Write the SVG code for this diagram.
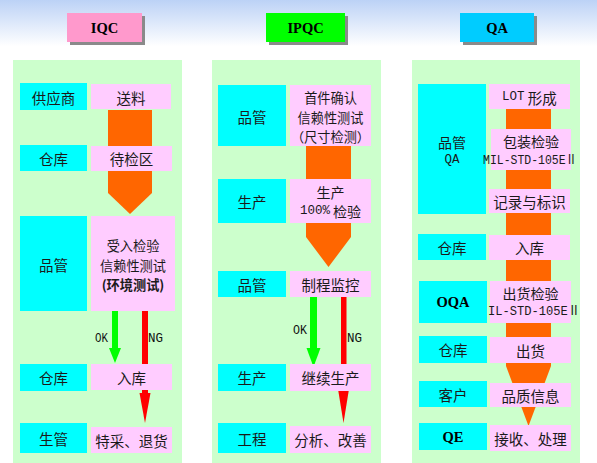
<svg xmlns="http://www.w3.org/2000/svg" width="597" height="463" viewBox="0 0 597 463">
<defs>
<linearGradient id="bg" x1="0" y1="0" x2="0" y2="1">
<stop offset="0" stop-color="#BCD2F6"/>
<stop offset="0.1" stop-color="#FFFFFF"/>
<stop offset="1" stop-color="#FFFFFF"/>
</linearGradient>
</defs>
<style>
.panel{fill:#CCFFCC}
.cy{fill:#00FFFF}
.pk{fill:#FFCCFF}
.or{fill:#FF6600}
.gr{fill:#00FF00}
.rd{fill:#FF0000}
.sh{fill:#8A8A8A}
text{font-family:"Noto Sans CJK SC","Liberation Sans",sans-serif;font-size:14.5px;fill:#1A1A1A;text-anchor:middle;dominant-baseline:central}
.ml{font-size:14px}
.m3{font-size:13.2px}
.hd{font-family:"Liberation Serif",serif;font-weight:bold;font-size:14.5px;fill:#000}
.lat{font-family:"Liberation Mono",monospace;font-size:12.5px}
.std{font-family:"Liberation Mono","Noto Sans CJK SC",monospace;font-size:13px}
.lbl{font-family:"Liberation Mono",monospace;font-size:13px;fill:#111}
</style>
<rect width="597" height="463" fill="url(#bg)"/>

<g id="panels">
<rect class="panel" x="13" y="60" width="169" height="403"/>
<rect class="panel" x="212" y="60" width="169" height="403"/>
<rect class="panel" x="412" y="60" width="168" height="403"/>
</g>

<g id="header-iqc">
<rect class="sh" x="70" y="16" width="75" height="29"/>
<rect x="67" y="13" width="75" height="29" fill="#FF99CC"/>
<text class="hd" x="104.5" y="28">IQC</text>
</g>
<g id="header-ipqc">
<rect class="sh" x="269" y="16" width="79" height="29"/>
<rect x="266" y="13" width="79" height="29" fill="#00FF00"/>
<text class="hd" x="305.5" y="28">IPQC</text>
</g>
<g id="header-qa">
<rect class="sh" x="463" y="16" width="74" height="29"/>
<rect x="460" y="13" width="74" height="29" fill="#00CCFF"/>
<text class="hd" x="497" y="28">QA</text>
</g>

<g id="connectors">
<polygon class="or" points="108,110 152,110 152,193 130,214 108,193"/>
<polygon class="or" points="306,146 351,146 351,237 328.5,267 306,237"/>
<polygon class="or" points="506,109 551,109 551,366 528.5,426 506,366"/>
<rect class="gr" x="112" y="311" width="6" height="39"/>
<polygon class="gr" points="109,348 121,348 115,363"/>
<rect class="rd" x="142" y="311" width="6" height="84"/>
<polygon class="rd" points="139.5,393 150.5,393 145,423"/>
<text class="lbl" x="101.5" y="338" textLength="13" lengthAdjust="spacingAndGlyphs">OK</text>
<text class="lbl" x="155.5" y="338" textLength="15" lengthAdjust="spacingAndGlyphs">NG</text>
<rect class="gr" x="310" y="297" width="7" height="53"/>
<polygon class="gr" points="306.5,348 320.5,348 313.5,367"/>
<rect class="rd" x="341" y="297" width="5.5" height="94"/>
<polygon class="rd" points="338,389 349,389 343.5,423"/>
<text class="lbl" x="300" y="330" textLength="14" lengthAdjust="spacingAndGlyphs">OK</text>
<text class="lbl" x="354.5" y="338" textLength="15" lengthAdjust="spacingAndGlyphs">NG</text>
</g>

<!-- IQC column -->
<g id="iqc-supplier"><rect class="cy" x="20" y="83" width="67" height="27"/><text x="53.5" y="97">供应商</text></g>
<g id="iqc-delivery"><rect class="pk" x="91" y="84" width="80" height="25"/><text x="131" y="97">送料</text></g>
<g id="iqc-warehouse1"><rect class="cy" x="20" y="145" width="67" height="26"/><text x="53.5" y="158">仓库</text></g>
<g id="iqc-waiting"><rect class="pk" x="91" y="146" width="81" height="25"/><text x="131.5" y="158.5">待检区</text></g>
<g id="iqc-qc"><rect class="cy" x="20" y="216" width="67" height="95"/><text x="53.5" y="264">品管</text></g>
<g id="iqc-inspect"><rect class="pk" x="91" y="216" width="84" height="95"/>
<text class="m3" x="133" y="245.3"><tspan x="133" y="245.3">受入检验</tspan><tspan x="133" y="264.5">信赖性测试</tspan><tspan x="133" y="283.7" font-weight="bold">(环境测试)</tspan></text>
</g>
<g id="iqc-warehouse2"><rect class="cy" x="20" y="364" width="67" height="27"/><text x="53.5" y="377.5">仓库</text></g>
<g id="iqc-store"><rect class="pk" x="91" y="364" width="81" height="26"/><text x="131.5" y="377">入库</text></g>
<g id="iqc-pc"><rect class="cy" x="20" y="423" width="67" height="30"/><text x="53.5" y="438">生管</text></g>
<g id="iqc-return"><rect class="pk" x="91" y="427" width="81" height="26"/><text x="131.5" y="440">特采、退货</text></g>

<!-- IPQC column -->
<g id="ipqc-qc1"><rect class="cy" x="218" y="85" width="68" height="61"/><text x="252" y="116.5">品管</text></g>
<g id="ipqc-first"><rect class="pk" x="290" y="85" width="81" height="61"/>
<text class="m3" x="330.5" y="97.3"><tspan x="330.5" y="97.3">首件确认</tspan><tspan x="330.5" y="116.5">信赖性测试</tspan><tspan x="330.5" y="135.7">（尺寸检测）</tspan></text>
</g>
<g id="ipqc-prod1"><rect class="cy" x="218" y="179" width="68" height="44"/><text x="252" y="201">生产</text></g>
<g id="ipqc-check"><rect class="pk" x="290" y="179" width="81" height="44"/>
<text class="ml" x="330.5" y="192"><tspan x="330.5" y="192">生产</tspan><tspan x="330.5" y="211"><tspan class="lat" font-size="13">100%</tspan> 检验</tspan></text>
</g>
<g id="ipqc-qc2"><rect class="cy" x="218" y="271" width="68" height="26"/><text x="252" y="284">品管</text></g>
<g id="ipqc-monitor"><rect class="pk" x="290" y="271" width="81" height="26"/><text x="330.5" y="284">制程监控</text></g>
<g id="ipqc-prod2"><rect class="cy" x="218" y="364" width="68" height="27"/><text x="252" y="377.5">生产</text></g>
<g id="ipqc-continue"><rect class="pk" x="290" y="364" width="81" height="27"/><text x="330.5" y="377.5">继续生产</text></g>
<g id="ipqc-eng"><rect class="cy" x="218" y="423" width="68" height="30"/><text x="252" y="438">工程</text></g>
<g id="ipqc-analysis"><rect class="pk" x="290" y="426" width="81" height="27"/><text x="330.5" y="439.5">分析、改善</text></g>

<!-- QA column -->
<g id="qa-qc"><rect class="cy" x="418" y="84" width="68" height="130"/>
<text class="ml" x="452" y="142"><tspan x="452" y="142">品管</tspan><tspan class="lat" x="452" y="160" font-size="13">QA</tspan></text>
</g>
<g id="qa-lot"><rect class="pk" x="489" y="84" width="81" height="25"/><text x="529.5" y="97"><tspan class="lat" font-size="13">LOT</tspan> 形成</text></g>
<g id="qa-pack"><rect class="pk" x="491" y="129" width="80" height="41"/>
<text class="ml" x="531" y="141">包装检验</text>
<text class="std" x="530" y="160" textLength="94" lengthAdjust="spacingAndGlyphs">MIL-STD-105EⅡ</text>
</g>
<g id="qa-record"><rect class="pk" x="489" y="189" width="81" height="24"/><text x="529.5" y="201">记录与标识</text></g>
<g id="qa-wh1"><rect class="cy" x="418" y="234" width="68" height="26"/><text x="452" y="247">仓库</text></g>
<g id="qa-store"><rect class="pk" x="489" y="235" width="81" height="25"/><text x="529.5" y="247.5">入库</text></g>
<g id="qa-oqa"><rect class="cy" x="419" y="281" width="68" height="42"/><text class="hd" x="453" y="302">OQA</text></g>
<g id="qa-ship-check"><rect class="pk" x="490" y="281" width="81" height="42"/>
<text class="ml" x="530.5" y="293">出货检验</text>
<text class="std" x="534" y="311" textLength="92" lengthAdjust="spacingAndGlyphs">IL-STD-105EⅡ</text>
</g>
<g id="qa-wh2"><rect class="cy" x="419" y="336" width="68" height="27"/><text x="453" y="349.5">仓库</text></g>
<g id="qa-ship"><rect class="pk" x="490" y="337" width="81" height="26"/><text x="530.5" y="350">出货</text></g>
<g id="qa-customer"><rect class="cy" x="419" y="381" width="68" height="26"/><text x="453" y="394">客户</text></g>
<g id="qa-info"><rect class="pk" x="490" y="383" width="81" height="24"/><text x="530.5" y="395">品质信息</text></g>
<g id="qa-qe"><rect class="cy" x="419" y="423" width="68" height="27"/><text class="hd" x="453" y="436.5">QE</text></g>
<g id="qa-handle"><rect class="pk" x="490" y="425" width="81" height="26"/><text x="530.5" y="438">接收、处理</text></g>
</svg>
